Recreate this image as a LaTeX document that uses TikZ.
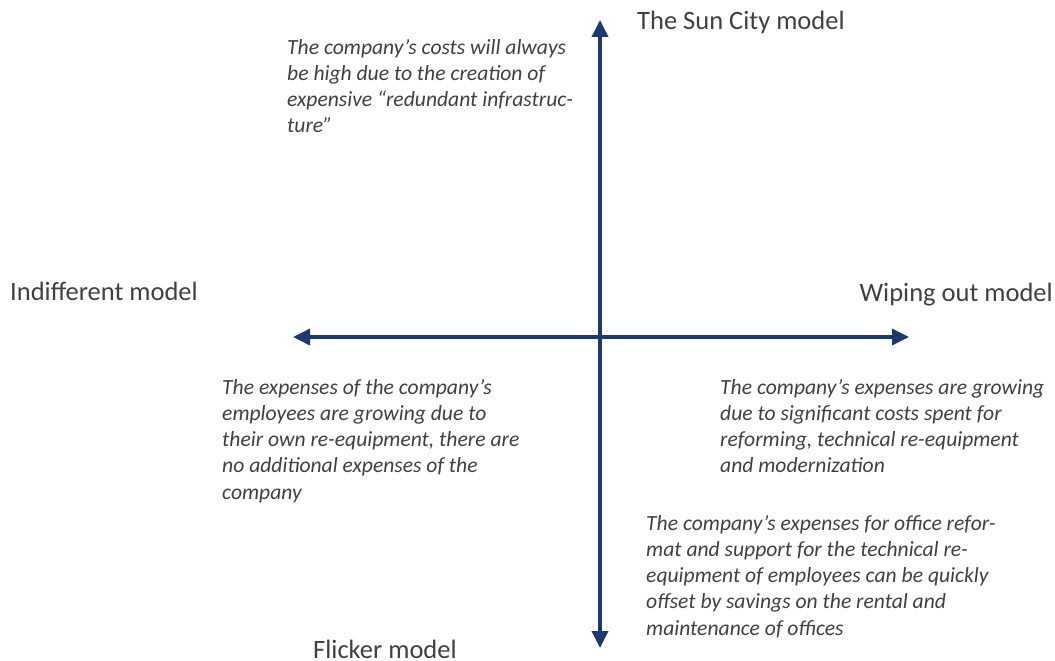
\documentclass[tikz,border=0pt]{standalone}
\usepackage{fontspec}
\setmainfont{Carlito}
\usetikzlibrary{arrows.meta}
\definecolor{axisblue}{HTML}{1C3A6B}
\definecolor{textgray}{HTML}{404040}
\begin{document}
\begin{tikzpicture}[x=1pt,y=-1pt,
  axis/.style={draw=axisblue,line width=3.6pt,-{Triangle[length=17pt,width=16pt]}},
  modellabel/.style={inner sep=0pt,text=textgray,font=\fontsize{26.5}{30}\selectfont},
  % anchored at the baseline of the last line of each note
  note/.style={inner sep=0pt,text=textgray,align=left,anchor=base west,
    font=\fontsize{21.6}{26.3}\selectfont\itshape}]
\useasboundingbox (0,0) rectangle (1055,661);
% axes
\coordinate (c) at (600,337);
\coordinate (top) at (600,20);
\coordinate (bot) at (600,648);
\coordinate (lft) at (293,337);
\coordinate (rgt) at (909,337);
\draw[axis] (c) -- (top);
\draw[axis] (c) -- (bot);
\draw[axis] (c) -- (lft);
\draw[axis] (c) -- (rgt);
% model names
\node[modellabel,anchor=base west] (sun) at (637,30) {The Sun City model};
\node[modellabel,anchor=base west] (ind) at (10,300) {Indifferent model};
\node[modellabel,anchor=base east] (wip) at (1053,301) {Wiping out model};
\node[modellabel,anchor=base west] (fli) at (313,658) {Flicker model};
% quadrant notes
\node[note] (n1) at (287,132.9) {The company’s costs will always\\be high due to the creation of\\expensive “redundant infrastruc-\\ture”};
\node[note] (n2) at (222,499.2) {The expenses of the company’s\\employees are growing due to\\their own re-equipment, there are\\no additional expenses of the\\company};
\node[note] (n3) at (720,472.9) {The company’s expenses are growing\\due to significant costs spent for\\reforming, technical re-equipment\\and modernization};
\node[note] (n4) at (646,635.2) {The company’s expenses for office refor-\\mat and support for the technical re-\\equipment of employees can be quickly\\offset by savings on the rental and\\maintenance of offices};
\end{tikzpicture}
\end{document}
